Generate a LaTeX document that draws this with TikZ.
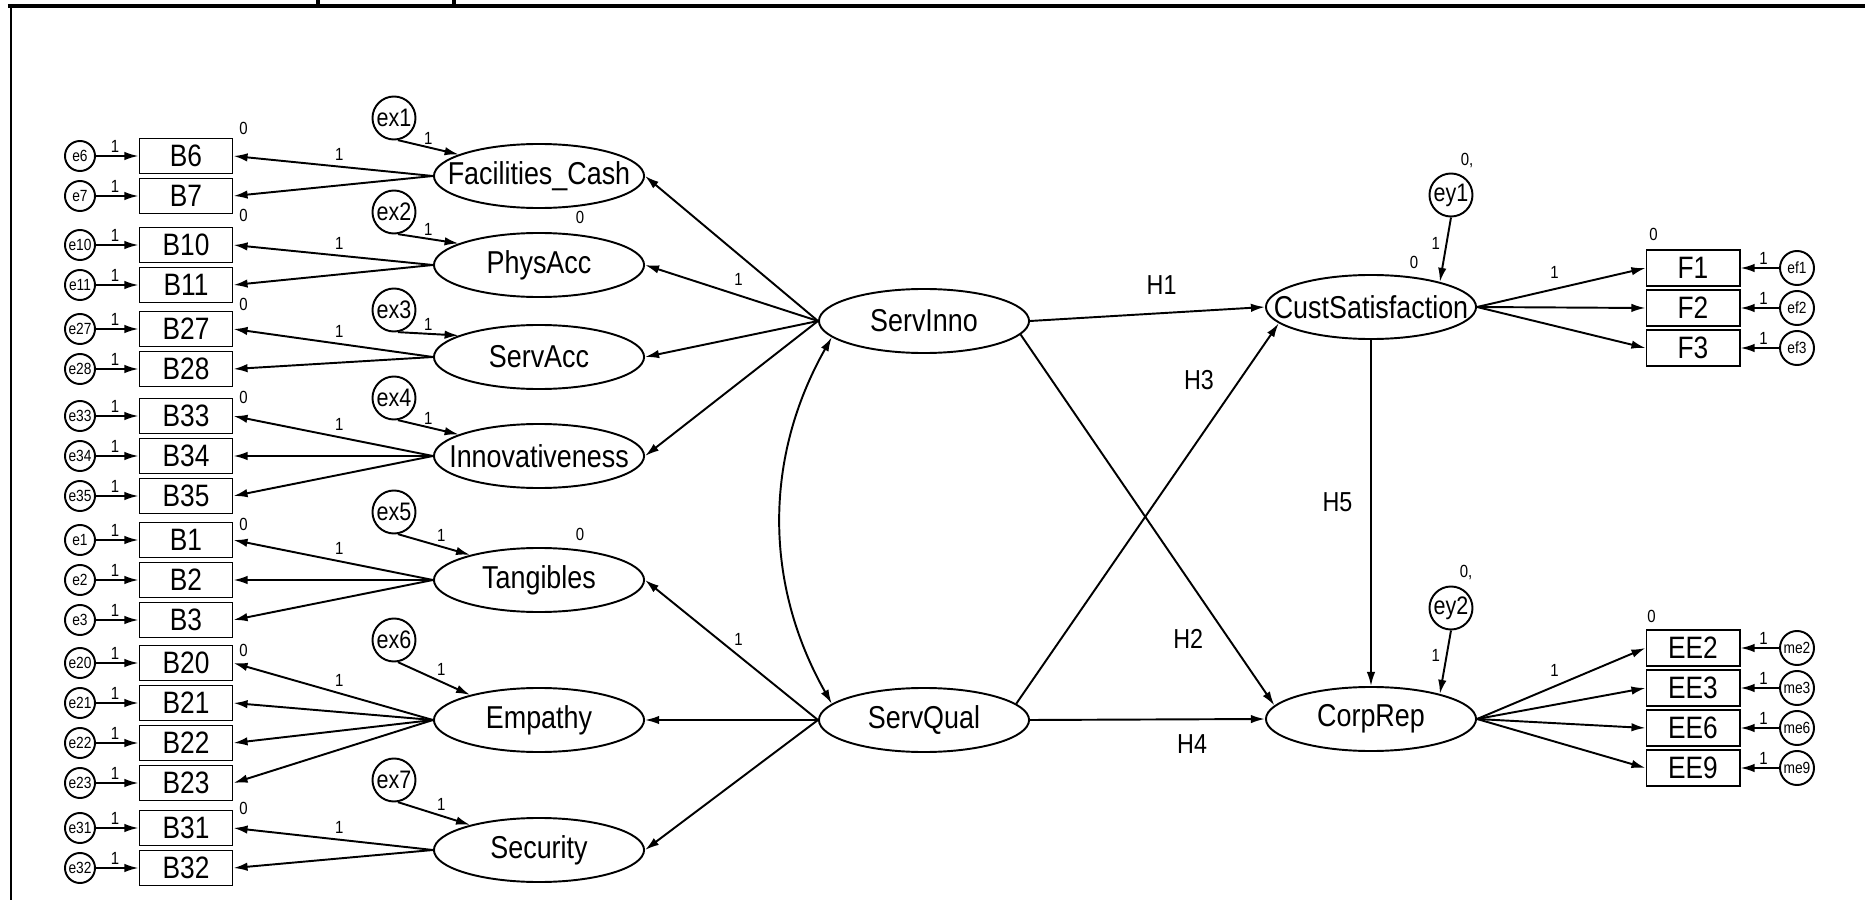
\documentclass[tikz,border=0pt]{standalone}
\usepackage{fontspec}
\setmainfont{Liberation Sans}[FakeStretch=0.85]
\usetikzlibrary{calc, shapes.geometric, arrows.meta, positioning}

\begin{document}
\begin{tikzpicture}[x=0.01cm, y=-0.01cm, line width=0.55pt,
    >={Latex[length=4pt, width=2.4pt]},
    latent/.style={ellipse, draw, minimum width=2.1cm, minimum height=0.64cm,
        inner sep=0pt, font=\fontsize{9}{10}\selectfont,
        execute at begin node={\hbox to 0pt\bgroup\hss},
        execute at end node={\hss\egroup}},
    itembox/.style={rectangle, draw, minimum width=0.93cm, minimum height=0.35cm,
        inner sep=0pt, font=\fontsize{8.8}{9}\selectfont},
    errc/.style={circle, draw, minimum size=0.3cm, inner sep=0pt,
        font=\fontsize{4.6}{5}\selectfont},
    distc/.style={circle, draw, minimum size=0.43cm, inner sep=0pt,
        font=\fontsize{7.2}{8}\selectfont},
    num/.style={inner sep=0.6pt, font=\fontsize{5}{6}\selectfont},
    hyp/.style={inner sep=1pt, font=\fontsize{7.8}{9}\selectfont}]

    % =================================================================
    % 1. FRAME OF THE PAGE
    % =================================================================
    \useasboundingbox (0,0) rectangle (1865,900);
    \fill[white] (0,0) rectangle (1865,900);
    \draw[line width=1.4pt] (8,6) -- (1865,6);
    \draw[line width=0.7pt] (11,6) -- (11,900);
    \draw[line width=1pt] (318,0) -- (318,6);
    \draw[line width=1pt] (454,0) -- (454,6);

    % =================================================================
    % 2. MACROS FOR THE INDICATORS (BOX + ERROR TERM)
    % =================================================================
    % #1: item number, #2: row (y)
    \newcommand{\drawBitem}[2]{
        \node[itembox] (B#1) at (186,#2) {B#1};
        \node[errc] (e#1) at (80,#2) {e#1};
        \draw[->] (e#1) -- (B#1) node[num, pos=0.45, above] {1};
    }
    % #1: box name, #2: error name, #3: row (y)
    \newcommand{\drawRitem}[3]{
        \node[itembox, minimum height=0.36cm] (#1) at (1693,#3) {#1};
        \node[errc, minimum size=0.34cm] (#2) at (1797,#3) {#2};
        \draw[->] (#2) -- (#1) node[num, pos=0.4, above] {1};
    }

    % =================================================================
    % 3. LEFT COLUMN: OBSERVED ITEMS
    % =================================================================
    \drawBitem{6}{156}
    \drawBitem{7}{196}
    \drawBitem{10}{245}
    \drawBitem{11}{285}
    \drawBitem{27}{329}
    \drawBitem{28}{369}
    \drawBitem{33}{416}
    \drawBitem{34}{456}
    \drawBitem{35}{496}
    \drawBitem{1}{540}
    \drawBitem{2}{580}
    \drawBitem{3}{620}
    \drawBitem{20}{663}
    \drawBitem{21}{703}
    \drawBitem{22}{743}
    \drawBitem{23}{783}
    \drawBitem{31}{828}
    \drawBitem{32}{868}

    % intercept labels
    \node[num] (zB6)  at ($(B6.north east)+(10,-9)$)  {0};
    \node[num] (zB10) at ($(B10.north east)+(10,-11)$) {0};
    \node[num] (zB27) at ($(B27.north east)+(10,-6)$) {0};
    \node[num] (zB33) at ($(B33.north east)+(10,0)$)  {0};
    \node[num] (zB1)  at ($(B1.north east)+(10,3)$)   {0};
    \node[num] (zB20) at ($(B20.north east)+(10,6)$)  {0};
    \node[num] (zB31) at ($(B31.north east)+(10,-1)$) {0};

    % =================================================================
    % 4. FIRST-ORDER FACTORS AND THEIR DISTURBANCES
    % =================================================================
    \node[latent] (FacCash) at (539,176) {Facilities\_Cash};
    \node[latent] (PhysAcc) at (539,265) {PhysAcc};
    \node[latent] (ServAcc) at (539,357) {ServAcc};
    \node[latent] (Innov)   at (539,456) {Innovativeness};
    \node[latent] (Tang)    at (539,580) {Tangibles};
    \node[latent] (Emp)     at (539,720) {Empathy};
    \node[latent] (Sec)     at (539,850) {Security};

    \node[distc] (ex1) at (394,118) {ex1};
    \node[distc] (ex2) at (394,212) {ex2};
    \node[distc] (ex3) at (394,310) {ex3};
    \node[distc] (ex4) at (394,398) {ex4};
    \node[distc] (ex5) at (394,512) {ex5};
    \node[distc] (ex6) at (394,640) {ex6};
    \node[distc] (ex7) at (394,780) {ex7};

    \draw[->] (ex1.-80) -- (FacCash.165) node[num, midway, above] {1};
    \draw[->] (ex2.-80) -- (PhysAcc.165) node[num, midway, above] {1};
    \draw[->] (ex3.-80) -- (ServAcc.165) node[num, midway, above] {1};
    \draw[->] (ex4.-80) -- (Innov.165)   node[num, midway, above] {1};
    \draw[->] (ex5.-80) -- (Tang.160)    node[num, midway, above right] {1};
    \draw[->] (ex6.-80) -- (Emp.160)     node[num, midway, above right] {1};
    \draw[->] (ex7.-80) -- (Sec.160)     node[num, midway, above right] {1};

    \node[num] (zPA) at ($(PhysAcc.north)+(41,-15)$) {0};
    \node[num] (zTA) at ($(Tang.north)+(41,-13)$) {0};

    % loadings on the items
    \draw[->] (FacCash.west) -- (B6.east) node[num, pos=0.47, above=1pt] {1};
    \draw[->] (FacCash.west) -- (B7.east);
    \draw[->] (PhysAcc.west) -- (B10.east) node[num, pos=0.47, above=1pt] {1};
    \draw[->] (PhysAcc.west) -- (B11.east);
    \draw[->] (ServAcc.west) -- (B27.east) node[num, pos=0.47, above=1pt] {1};
    \draw[->] (ServAcc.west) -- (B28.east);
    \draw[->] (Innov.west) -- (B33.east) node[num, pos=0.47, above=1pt] {1};
    \draw[->] (Innov.west) -- (B34.east);
    \draw[->] (Innov.west) -- (B35.east);
    \draw[->] (Tang.west) -- (B1.east) node[num, pos=0.47, above=1pt] {1};
    \draw[->] (Tang.west) -- (B2.east);
    \draw[->] (Tang.west) -- (B3.east);
    \draw[->] (Emp.west) -- (B20.east) node[num, pos=0.47, above=1pt] {1};
    \draw[->] (Emp.west) -- (B21.east);
    \draw[->] (Emp.west) -- (B22.east);
    \draw[->] (Emp.west) -- (B23.east);
    \draw[->] (Sec.west) -- (B31.east) node[num, pos=0.47, above=1pt] {1};
    \draw[->] (Sec.west) -- (B32.east);

    % =================================================================
    % 5. SECOND-ORDER FACTORS
    % =================================================================
    \node[latent] (ServInno) at (924,321) {ServInno};
    \node[latent] (ServQual) at (924,720) {ServQual};

    \draw[->] (ServInno.west) -- (FacCash.east);
    \draw[->] (ServInno.west) -- (PhysAcc.east) node[num, pos=0.46, above=2pt] {1};
    \draw[->] (ServInno.west) -- (ServAcc.east);
    \draw[->] (ServInno.west) -- (Innov.east);
    \draw[->] (ServQual.west) -- (Tang.east) node[num, pos=0.46, above=2pt] {1};
    \draw[->] (ServQual.west) -- (Emp.east);
    \draw[->] (ServQual.west) -- (Sec.east);

    % covariance
    \draw[<->] (ServInno.190) .. controls +(-68,120) and +(-68,-120) .. (ServQual.170);

    % =================================================================
    % 6. OUTCOMES AND HYPOTHESES
    % =================================================================
    \node[latent] (CustSat) at (1371,307) {CustSatisfaction};
    \node[latent] (CorpRep) at (1371,719) {CorpRep};
    \node[distc] (ey1) at (1451,195) {ey1};
    \node[distc] (ey2) at (1451,608) {ey2};

    \draw[->] (ey1.south) -- (CustSat.20) node[num, pos=0.4, left=1pt] {1};
    \draw[->] (ey2.south) -- (CorpRep.20) node[num, pos=0.4, left=1pt] {1};
    \node[num] (zey1) at ($(ey1.north)+(16,-12)$) {0,};
    \node[num] (zey2) at ($(ey2.north)+(15,-13)$) {0,};
    \node[num] (zCS) at ($(CustSat.north)+(43,-12)$) {0};

    \draw[->] (ServInno.east) -- (CustSat.west) node[hyp, pos=0.56, above=4pt] {H1};
    \draw[->] (ServInno.-8) -- (CorpRep.172) node[hyp, pos=0.82, left=6pt] {H2};
    \draw[->] (ServQual.10) -- (CustSat.190) node[hyp, pos=0.85, left=6pt] {H3};
    \draw[->] (ServQual.east) -- (CorpRep.west) node[hyp, pos=0.69, below=3pt] {H4};
    \draw[->] (CustSat.south) -- (CorpRep.north) node[hyp, pos=0.47, left=4pt] {H5};

    % =================================================================
    % 7. RIGHT COLUMN: OUTCOME ITEMS
    % =================================================================
    \drawRitem{F1}{ef1}{268}
    \drawRitem{F2}{ef2}{308}
    \drawRitem{F3}{ef3}{348}
    \drawRitem{EE2}{me2}{648}
    \drawRitem{EE3}{me3}{688}
    \drawRitem{EE6}{me6}{728}
    \drawRitem{EE9}{me9}{768}

    \node[num] (zF1)  at ($(F1.north west)+(8,-15)$)  {0};
    \node[num] (zEE2) at ($(EE2.north west)+(6,-13)$) {0};

    \draw[->] (CustSat.east) -- (F1.west) node[num, pos=0.46, above=2pt] {1};
    \draw[->] (CustSat.east) -- (F2.west);
    \draw[->] (CustSat.east) -- (F3.west);
    \draw[->] (CorpRep.east) -- (EE2.west) node[num, pos=0.46, above=2pt] {1};
    \draw[->] (CorpRep.east) -- (EE3.west);
    \draw[->] (CorpRep.east) -- (EE6.west);
    \draw[->] (CorpRep.east) -- (EE9.west);

\end{tikzpicture}
\end{document}
